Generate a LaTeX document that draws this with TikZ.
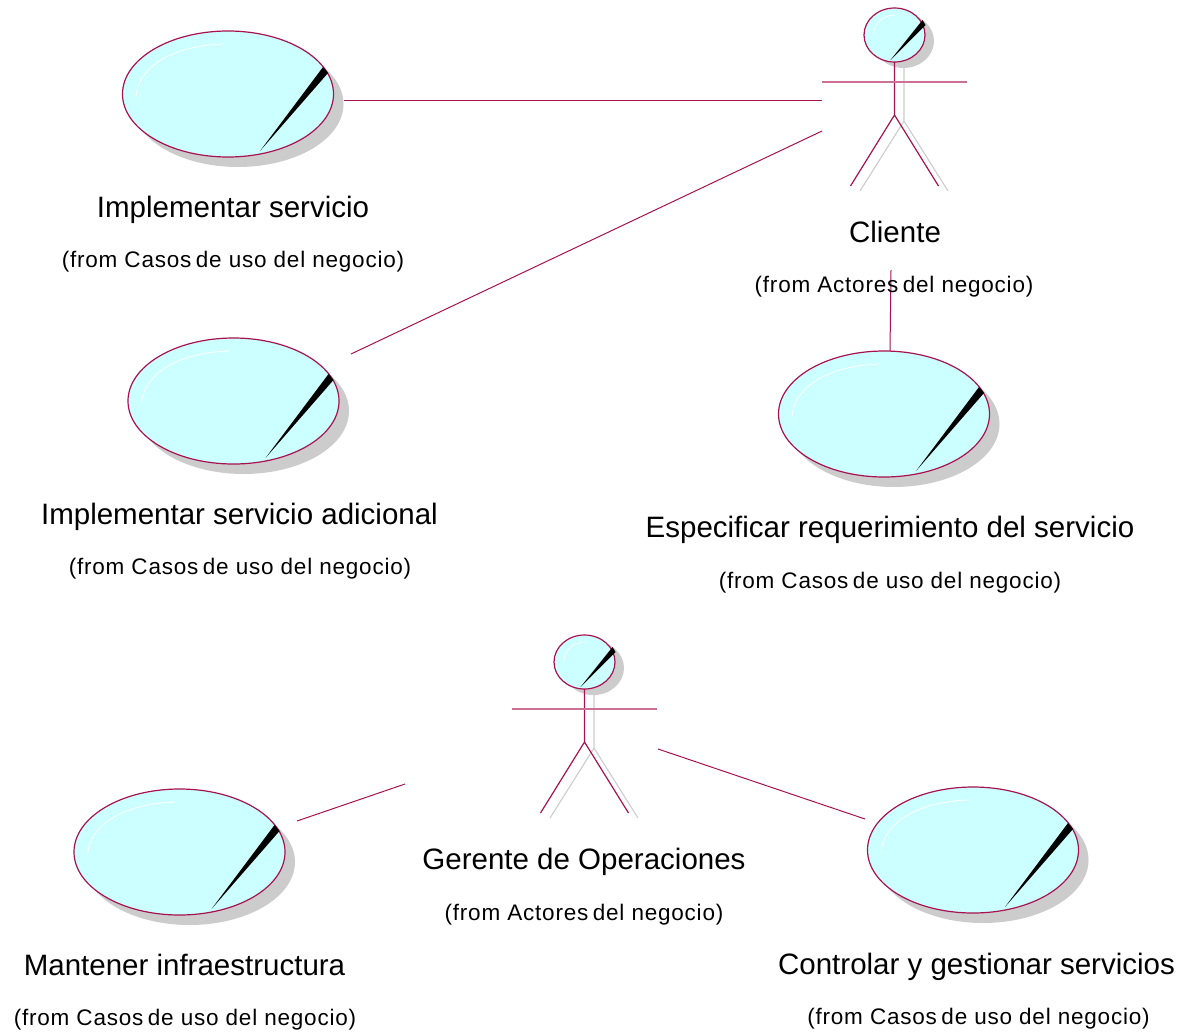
\documentclass[tikz,border=0pt]{standalone}
\usepackage{fontspec}
\setmainfont{Liberation Sans}
\newfontfamily\fromfont[LetterSpace=3.5]{Liberation Sans}
\definecolor{umlline}{HTML}{A8124F}
\definecolor{umlfill}{HTML}{CCFFFF}
\definecolor{umlshadow}{HTML}{CCCCCC}
\newcommand{\tsp}{\kern-2.5pt\ }
\tikzset{
  x=1pt,y=-1pt,
  assoc/.style={draw=umlline,line width=1pt},
  title/.style={font=\fontsize{29.5}{31}\selectfont,inner sep=0pt,anchor=base},
  from/.style={font=\fromfont\fontsize{22.5}{24}\selectfont,inner sep=0pt,anchor=base},
  lim/.style={draw=umlline,line width=1.2pt,line join=round},
  shad/.style={draw=umlshadow,line width=1.1pt},
  pics/usecase/.style={code={
    \fill[umlshadow] (10,10) ellipse [x radius=105.5,y radius=63];
    \filldraw[fill=umlfill,draw=umlline,line width=1.2pt] (0,0) ellipse [x radius=105.5,y radius=63];
    \fill[black] (95,-27) -- (100,-21) -- (32,57) -- cycle;
    \draw[white,line width=0.8pt] (-92,3) .. controls (-90,-30) and (-50,-49) .. (-4,-50);
  }},
  pics/actor/.style={code={
    \fill[umlshadow] (9,6) ellipse [x radius=30.5,y radius=27];
    \draw[shad] (9.5,27) -- (9.5,86) (9.5,86) -- (-34.5,156) (9.5,86) -- (53.5,156);
    \filldraw[fill=umlfill,draw=umlline,line width=1.2pt] (0,0) ellipse [x radius=30.5,y radius=27];
    \fill[black] (28,-15) -- (31,-10) -- (-4,25) -- cycle;
    \draw[white,line width=0.7pt] (-21,0) .. controls (-20,-14) and (-10,-20) .. (1,-20);
    \draw[lim] (0,27) -- (0,80) (-44,151) -- (0,80) -- (44,151);
    \draw[umlline!60!white,line width=1.6pt] (-72.5,47) -- (72.5,47);
  }},
}
\begin{document}
\begin{tikzpicture}
\useasboundingbox (0,0) rectangle (1182,1031);
\pic at (228,94) {usecase};
\pic at (233.5,401) {usecase};
\pic at (884,414) {usecase};
\pic at (179.5,852) {usecase};
\pic at (973,850) {usecase};
\pic at (894.5,35) {actor};
\pic at (584.5,662) {actor};
\coordinate (ca) at (344,100); \coordinate (cb) at (822,100);
\coordinate (da) at (351,354); \coordinate (db) at (822,131);
\coordinate (ea) at (891,270); \coordinate (eb) at (890,351);
\coordinate (fa) at (297,821); \coordinate (fb) at (405,784);
\coordinate (ga) at (658,749); \coordinate (gb) at (865,819);
\draw[assoc] (ca) -- (cb);
\draw[assoc] (da) -- (db);
\draw[assoc] (ea) -- (eb);
\draw[assoc] (fa) -- (fb);
\draw[assoc] (ga) -- (gb);
\node[title] (t1) at (233,217) {Implementar servicio};
\node[from] (s1) at (233,267) {(from Casos\tsp de uso del negocio)};
\node[title] (t2) at (239.5,524) {Implementar servicio adicional};
\node[from] (s2) at (240,574) {(from Casos\tsp de uso del negocio)};
\node[title] (t3) at (890,537) {Especificar requerimiento del servicio};
\node[from] (s3) at (890,588) {(from Casos\tsp de uso del negocio)};
\node[title] (t4) at (895,242) {Cliente};
\node[from] (s4) at (894,292) {(from Actores\tsp del negocio)};
\node[title] (t5) at (584,869) {Gerente de Operaciones};
\node[from] (s5) at (584,920) {(from Actores\tsp del negocio)};
\node[title] (t6) at (184.5,975) {Mantener infraestructura};
\node[from] (s6) at (185,1025) {(from Casos\tsp de uso del negocio)};
\node[title] (t7) at (976.5,974) {Controlar y gestionar servicios};
\node[from] (s7) at (978.5,1024) {(from Casos\tsp de uso del negocio)};
\end{tikzpicture}
\end{document}
